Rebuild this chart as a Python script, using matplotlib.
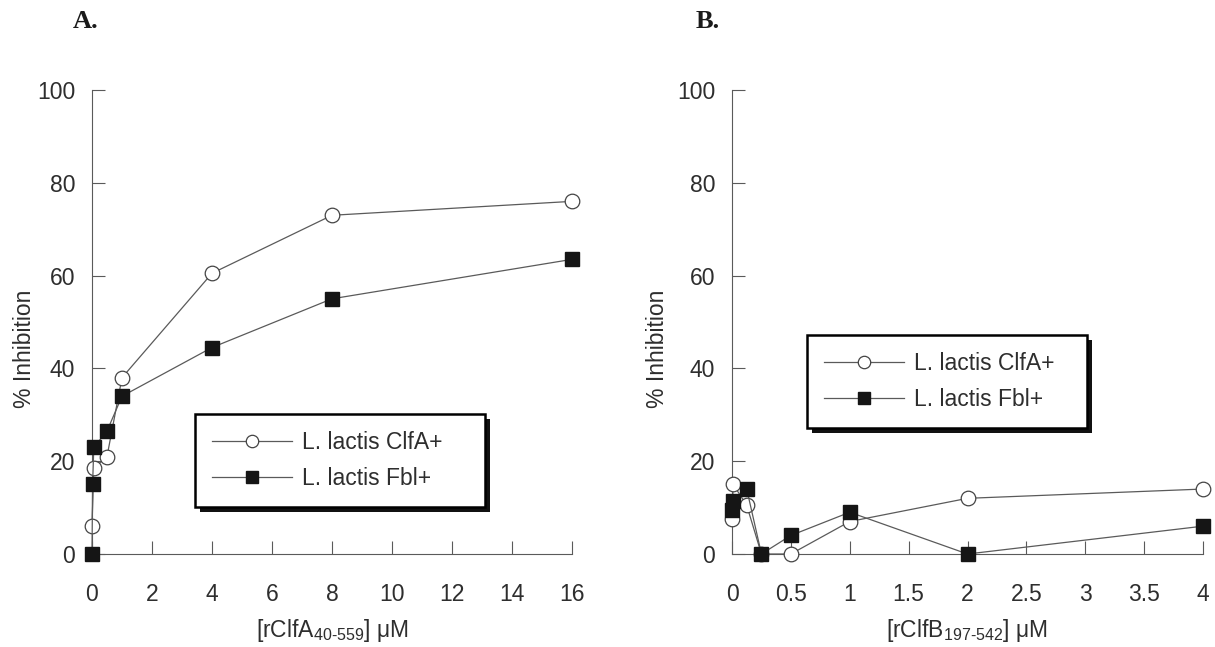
import matplotlib.pyplot as plt
from matplotlib.patches import Rectangle

plt.rcParams['font.family'] = ['Liberation Sans', 'DejaVu Sans']
plt.rcParams['mathtext.fontset'] = 'custom'
plt.rcParams['mathtext.rm'] = 'Liberation Sans'

# A: inhibition by rClfA(40-559)
a_clfa_x = [0, 0.06, 0.5, 1, 4, 8, 16]
a_clfa_y = [6, 18.5, 21, 38, 60.5, 73, 76]
a_fbl_x = [0, 0.02, 0.06, 0.5, 1, 4, 8, 16]
a_fbl_y = [0, 15, 23, 26.5, 34, 44.5, 55, 63.5]
a_xticks = [0, 2, 4, 6, 8, 10, 12, 14, 16]

# B: inhibition by rClfB(197-542)
b_clfa_x = [0, 0.01, 0.125, 0.25, 0.5, 1, 2, 4]
b_clfa_y = [7.5, 15, 10.5, 0, 0, 7, 12, 14]
b_fbl_x = [0, 0.01, 0.125, 0.25, 0.5, 1, 2, 4]
b_fbl_y = [9.5, 11.5, 14, 0, 4, 9, 0, 6]
b_xticks = [0, 0.5, 1, 1.5, 2, 2.5, 3, 3.5, 4]
b_xticklabels = ['0', '0.5', '1', '1.5', '2', '2.5', '3', '3.5', '4']

yticks = [0, 20, 40, 60, 80, 100]
labels = ['L. lactis ClfA+', 'L. lactis Fbl+']

LINE = '#5a5a5a'
TEXT = '#2e2e2e'
FS = 16.5

fig = plt.figure(figsize=(12.15, 6.47), dpi=100)
axA = fig.add_axes([92/1215, 93/647, 480/1215, 464/647])
axB = fig.add_axes([732/1215, 93/647, 471/1215, 464/647])


def style(ax, xmax, xticks, xticklabels=None):
    ax.set_xlim(0, xmax)
    ax.set_ylim(0, 100)
    ax.set_xticks(xticks)
    if xticklabels:
        ax.set_xticklabels(xticklabels)
    ax.set_yticks(yticks)
    for s in ('top', 'right'):
        ax.spines[s].set_visible(False)
    for s in ('left', 'bottom'):
        ax.spines[s].set_color(LINE)
        ax.spines[s].set_linewidth(0.8)
    ax.tick_params(direction='in', length=9.5, width=0.8, color=LINE,
                   labelsize=FS, labelcolor=TEXT)
    ax.tick_params(axis='x', pad=21)
    ax.tick_params(axis='y', pad=12)


def plot_pair(ax, cx, cy, fx, fy):
    ax.plot(cx, cy, color=LINE, lw=0.9, marker='o', ms=10.5, mfc='white',
            mec='#444444', mew=0.9, clip_on=False, zorder=3, label=labels[0])
    ax.plot(fx, fy, color=LINE, lw=0.9, marker='s', ms=10.5, mfc='#151515',
            mec='#151515', clip_on=False, zorder=4, label=labels[1])


plot_pair(axA, a_clfa_x, a_clfa_y, a_fbl_x, a_fbl_y)
plot_pair(axB, b_clfa_x, b_clfa_y, b_fbl_x, b_fbl_y)
style(axA, 16, a_xticks)
style(axB, 4, b_xticks, b_xticklabels)

# legend boxes: left, top, width in pixels
legs = []
for ax, (lx, ly, lw) in ((axA, (195, 414, 290)), (axB, (807, 335, 280))):
    leg = ax.legend(loc='upper left',
                    bbox_to_anchor=(lx/1215, 1 - ly/647 - 0.001, lw/1215, 0.001),
                    bbox_transform=fig.transFigure, mode='expand', fontsize=FS,
                    fancybox=False, edgecolor='black', framealpha=1,
                    handlelength=3.5, handletextpad=0.4, borderpad=0.75,
                    labelspacing=0.55, borderaxespad=0, markerscale=0.85)
    leg.get_frame().set_linewidth(1.8)
    for t in leg.get_texts():
        t.set_color(TEXT)
    leg.set_zorder(10)
    legs.append((ax, leg))

# offset drop shadow behind each legend box
fig.canvas.draw()
for ax, leg in legs:
    bb = leg.get_window_extent()
    sh = Rectangle((bb.x0 + 5, bb.y0 - 5), bb.width, bb.height,
                   transform=None, facecolor='#111111', edgecolor='none',
                   zorder=9, clip_on=False)
    ax.add_artist(sh)

for x in (25, 657):
    fig.text(x/1215, 1 - 349/647, '% Inhibition', rotation=90, fontsize=FS,
             color=TEXT, ha='center', va='center')

fig.text(332/1215, 1 - 630/647, r'[rClfA$_{\mathregular{40\text{-}559}}$] $\mathregular{\mu}$M',
         fontsize=FS, color=TEXT, ha='center', va='center')
fig.text(967/1215, 1 - 630/647, r'[rClfB$_{\mathregular{197\text{-}542}}$] $\mathregular{\mu}$M',
         fontsize=FS, color=TEXT, ha='center', va='center')

for x, lab in ((86, 'A.'), (708, 'B.')):
    fig.text(x/1215, 1 - 22/647, lab, fontsize=19, fontweight='bold',
             family='Liberation Serif', ha='center', va='center', color='#1a1a1a')

fig.savefig('out.png', dpi=100, facecolor='white')
